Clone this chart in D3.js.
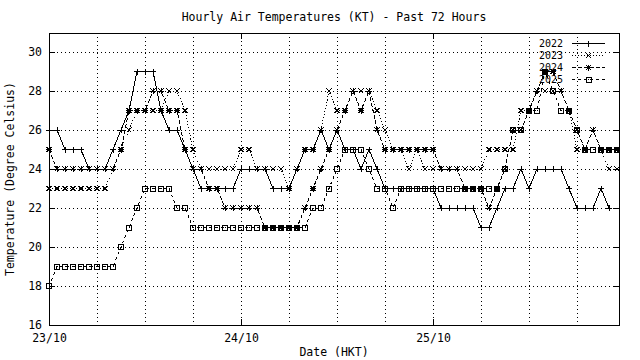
<!DOCTYPE html>
<html><head><meta charset="utf-8">
<script src="https://cdn.jsdelivr.net/npm/d3@7"></script>
<style>
body{margin:0;background:#fff}
svg{display:block}
text{font-family:"DejaVu Sans Mono",monospace;font-size:11.5px;fill:#000}
</style>
</head><body>
<svg id="c" width="640" height="360"></svg>
<script>
// ---- data (hourly values, index = hours since 23/10 00:00) ----
const seriesNames = ["2022", "2023", "2024", "2025"];
const t2022 = [26,26,25,25,25,24,24,24,25,26, 27,29,29,29,27,26,26,25,24,23, 23,23,23,23,24,24,24,24,23,23,
               23,24,25,25,26,25,26,25,25,24, 25,24,23,23,23,23,23,23,23,22, 22,22,22,22,21,21,22,23,23,24,
               23,24,24,24,24,23,22,22,22,23, 22];
const t2023 = [23,23,23,23,23,23,23,23,24,25, 26,27,27,27,27,28,28,27,25,24, 24,24,24,24,25,25,24,24,24,24,
               23,24,25,25,26,28,27,27,28,28, 28,27,26,25,25,24,25,24,24,24, 24,24,24,24,24,25,25,25,25,27,
               27,28,28,28,28,27,25,25,26,25, 24,24];
const t2024 = [25,24,24,24,24,24,24,24,24,25, 27,27,27,28,28,27,27,25,24,24, 23,23,22,22,22,22,22,21,21,21,
               21,21,22,23,24,25,26,27,28,27, 28,26,25,25,25,25,25,25,25,24, 24,24,23,23,23,22,23,24,26,26,
               27,28,29,29,28,27,26,25,26,25, 25,25];
const t2025 = [18,19,19,19,19,19,19,19,19,20, 21,22,23,23,23,23,22,22,21,21, 21,21,21,21,21,21,21,21,21,21,
               21,21,21,22,22,23,24,25,25,25, 24,23,23,22,23,23,23,23,23,23, 23,23,23,23,23,23,23,24,26,26,
               27,27,29,28,27,27,26,25,25,25, 25,25];
const yTicks = [16, 18, 20, 22, 24, 26, 28, 30];
const xTickHours = [0, 24, 48];
const xTickLabels = ["23/10", "24/10", "25/10"];
const gridHours = [6, 12, 18, 24, 30, 36, 42, 48, 54, 60, 66];
const titleText = "Hourly Air Temperatures (KT) - Past 72 Hours";
const xTitle = "Date (HKT)";
const yTitle = "Temperature (Degree Celsius)";

// ---- styles ----
const allSeries = [t2022, t2023, t2024, t2025];
const markerTypes = ["plus", "cross", "star", "square"];
const dashStyles = [null, "1,2", "4,2", "3,3"];

const svg = d3.select("#c");
const L = 49, R = 619, T = 32.5, B = 325;
const x = d3.scaleLinear().domain([0, 71.25]).range([L, R]);
const y = d3.scaleLinear().domain([16, 31]).range([B, T]);

svg.append("rect").attr("width", 640).attr("height", 360).attr("fill", "#fff");

// grid
const g = svg.append("g").attr("shape-rendering", "crispEdges")
  .attr("stroke", "#000").attr("stroke-width", 1).attr("stroke-dasharray", "1,3");
g.selectAll(".gy").data(yTicks.filter(v => v > 16)).join("line")
  .attr("x1", L).attr("x2", R).attr("y1", d => Math.round(y(d)) + 0.5).attr("y2", d => Math.round(y(d)) + 0.5);
g.selectAll(".gx").data(gridHours).join("line")
  .attr("y1", T).attr("y2", B).attr("x1", d => Math.round(x(d)) + 0.5).attr("x2", d => Math.round(x(d)) + 0.5);

// axes
function styleAxis(sel) {
  sel.attr("shape-rendering", "crispEdges");
  sel.select(".domain").remove();
  sel.selectAll("line").attr("stroke", "#000");
  sel.selectAll("text").attr("font-family", '"DejaVu Sans Mono",monospace').attr("font-size", "11.5px").attr("fill", "#000");
}
svg.append("g").attr("transform", `translate(${L},0)`)
  .call(d3.axisLeft(y).tickValues(yTicks).tickSizeInner(-6).tickSizeOuter(0).tickPadding(7).tickFormat(d3.format("d")))
  .call(styleAxis);
svg.append("g").attr("transform", `translate(${R},0)`)
  .call(d3.axisRight(y).tickValues(yTicks).tickSizeInner(-6).tickSizeOuter(0).tickFormat(""))
  .call(styleAxis);
svg.append("g").attr("transform", `translate(0,${B})`)
  .call(d3.axisBottom(x).tickValues(xTickHours).tickSizeInner(-6).tickSizeOuter(0).tickPadding(9)
    .tickFormat((d, i) => xTickLabels[i]))
  .call(styleAxis);
svg.append("g").attr("transform", `translate(0,${T})`)
  .call(d3.axisTop(x).tickValues(xTickHours).tickSizeInner(-6).tickSizeOuter(0).tickFormat(""))
  .call(styleAxis);

// border
svg.append("rect").attr("x", L + 0.5).attr("y", Math.round(T) + 0.5).attr("width", R - L)
  .attr("height", B - Math.round(T)).attr("fill", "none").attr("stroke", "#000").attr("shape-rendering", "crispEdges");

// markers
function markerPath(type, cx, cy) {
  const s = 3, q = 2.5;
  const p = d3.path();
  if (type === "plus" || type === "star") {
    p.moveTo(cx - s, cy); p.lineTo(cx + s, cy);
    p.moveTo(cx, cy - s); p.lineTo(cx, cy + s);
  }
  if (type === "cross" || type === "star") {
    p.moveTo(cx - q, cy - q); p.lineTo(cx + q, cy + q);
    p.moveTo(cx - q, cy + q); p.lineTo(cx + q, cy - q);
  }
  if (type === "square") {
    p.rect(cx - 2.5, cy - 2.5, 5, 5);
    p.moveTo(cx - 0.5, cy); p.lineTo(cx + 0.5, cy);
  }
  return p.toString();
}

const line = d3.line().x((d, i) => x(i)).y(d => y(d));
const plot = svg.append("g").attr("shape-rendering", "crispEdges");
allSeries.forEach((vals, si) => {
  const gs = plot.append("g");
  gs.append("path").attr("d", line(vals)).attr("fill", "none").attr("stroke", "#000")
    .attr("stroke-width", 1).attr("stroke-dasharray", dashStyles[si]);
  gs.selectAll("path.m").data(vals).join("path").attr("class", "m")
    .attr("d", (d, i) => markerPath(markerTypes[si], x(i), y(d)))
    .attr("fill", "none").attr("stroke", "#000").attr("stroke-width", 1);
});

// legend
const lg = svg.append("g");
seriesNames.forEach((name, si) => {
  const cy = 43 + si * 12;
  lg.append("text").attr("x", 563).attr("y", cy + 3.5).attr("text-anchor", "end")
    .style("font-size", "10px").text(name);
  lg.append("line").attr("x1", 572).attr("x2", 605).attr("y1", Math.round(cy) + 0.5).attr("y2", Math.round(cy) + 0.5)
    .attr("stroke", "#000").attr("stroke-dasharray", dashStyles[si]).attr("shape-rendering", "crispEdges");
  lg.append("path").attr("d", markerPath(markerTypes[si], 588.5, Math.round(cy) + 0.5))
    .attr("fill", "none").attr("stroke", "#000").attr("shape-rendering", "crispEdges");
});

// titles
svg.append("text").attr("x", 334).attr("y", 21).attr("text-anchor", "middle").text(titleText);
svg.append("text").attr("x", 334).attr("y", 356).attr("text-anchor", "middle").text(xTitle);
svg.append("text").attr("transform", "translate(14,179) rotate(-90)").attr("text-anchor", "middle").text(yTitle);
</script>
</body></html>
